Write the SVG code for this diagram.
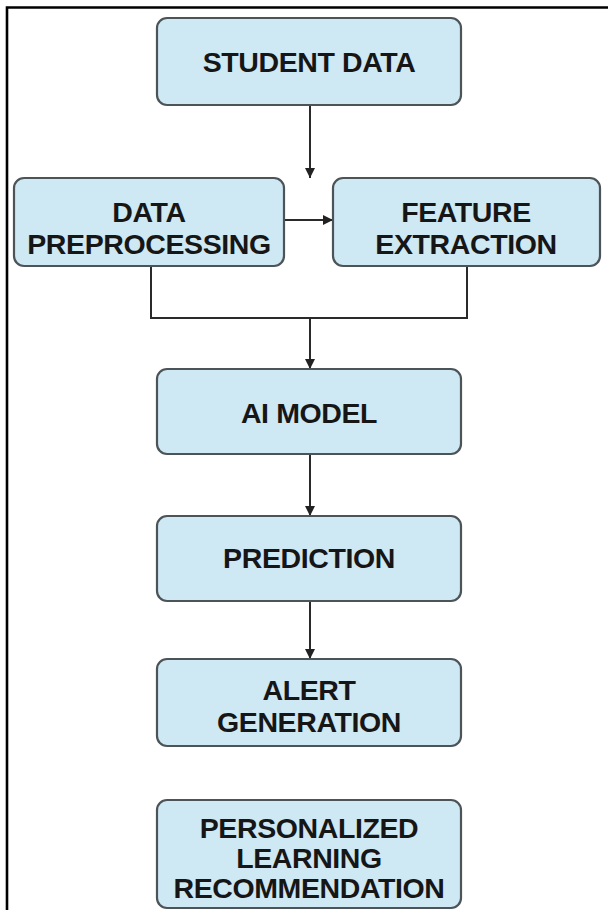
<svg xmlns="http://www.w3.org/2000/svg" width="608" height="910" viewBox="0 0 608 910">
<defs>
<marker id="ah" viewBox="0 0 10 10" refX="10" refY="5" markerWidth="11" markerHeight="10" markerUnits="userSpaceOnUse" orient="auto">
<path d="M0,0 L10,5 L0,10 z" fill="#222"/>
</marker>
<style>
.box{fill:#cee8f4;stroke:#4d5458;stroke-width:2.2}
.lbl{font-family:"Liberation Sans",Arial,sans-serif;font-weight:bold;font-size:28.5px;letter-spacing:-0.4px;fill:#161616;text-anchor:middle;dominant-baseline:central}
.ln{fill:none;stroke:#2a2a2a;stroke-width:2}
</style>
</defs>
<rect width="608" height="910" fill="#fff"/>
<g id="frame">
<path d="M7,910 L7,7.5 L608,7.5" fill="none" stroke="#000" stroke-width="2.6"/>
</g>
<g id="connectors">
<line class="ln" x1="310" y1="105" x2="310" y2="178" marker-end="url(#ah)"/>
<line class="ln" x1="284" y1="220" x2="333" y2="220" marker-end="url(#ah)"/>
<path class="ln" d="M151,266 L151,318 L467,318 L467,266"/>
<line class="ln" x1="310" y1="318" x2="310" y2="369" marker-end="url(#ah)"/>
<line class="ln" x1="310" y1="454" x2="310" y2="516" marker-end="url(#ah)"/>
<line class="ln" x1="310" y1="601" x2="310" y2="659" marker-end="url(#ah)"/>
</g>
<g id="student-data">
<rect class="box" x="157" y="18" width="304" height="87" rx="10"/>
<text class="lbl" x="309" y="62">STUDENT DATA</text>
</g>
<g id="data-preprocessing">
<rect class="box" x="14" y="178" width="270" height="88" rx="10"/>
<text class="lbl" x="149" y="212">DATA</text>
<text class="lbl" x="149" y="244">PREPROCESSING</text>
</g>
<g id="feature-extraction">
<rect class="box" x="333" y="178" width="267" height="88" rx="10"/>
<text class="lbl" x="466" y="212">FEATURE</text>
<text class="lbl" x="466" y="244">EXTRACTION</text>
</g>
<g id="ai-model">
<rect class="box" x="157" y="369" width="304" height="85" rx="10"/>
<text class="lbl" x="309" y="413">AI MODEL</text>
</g>
<g id="prediction">
<rect class="box" x="157" y="516" width="304" height="85" rx="10"/>
<text class="lbl" x="309" y="558">PREDICTION</text>
</g>
<g id="alert-generation">
<rect class="box" x="157" y="659" width="304" height="87" rx="10"/>
<text class="lbl" x="309" y="690">ALERT</text>
<text class="lbl" x="309" y="722">GENERATION</text>
</g>
<g id="personalized-learning">
<rect class="box" x="157" y="800" width="304" height="108" rx="10"/>
<text class="lbl" x="309" y="828">PERSONALIZED</text>
<text class="lbl" x="309" y="858">LEARNING</text>
<text class="lbl" x="309" y="888">RECOMMENDATION</text>
</g>
</svg>
